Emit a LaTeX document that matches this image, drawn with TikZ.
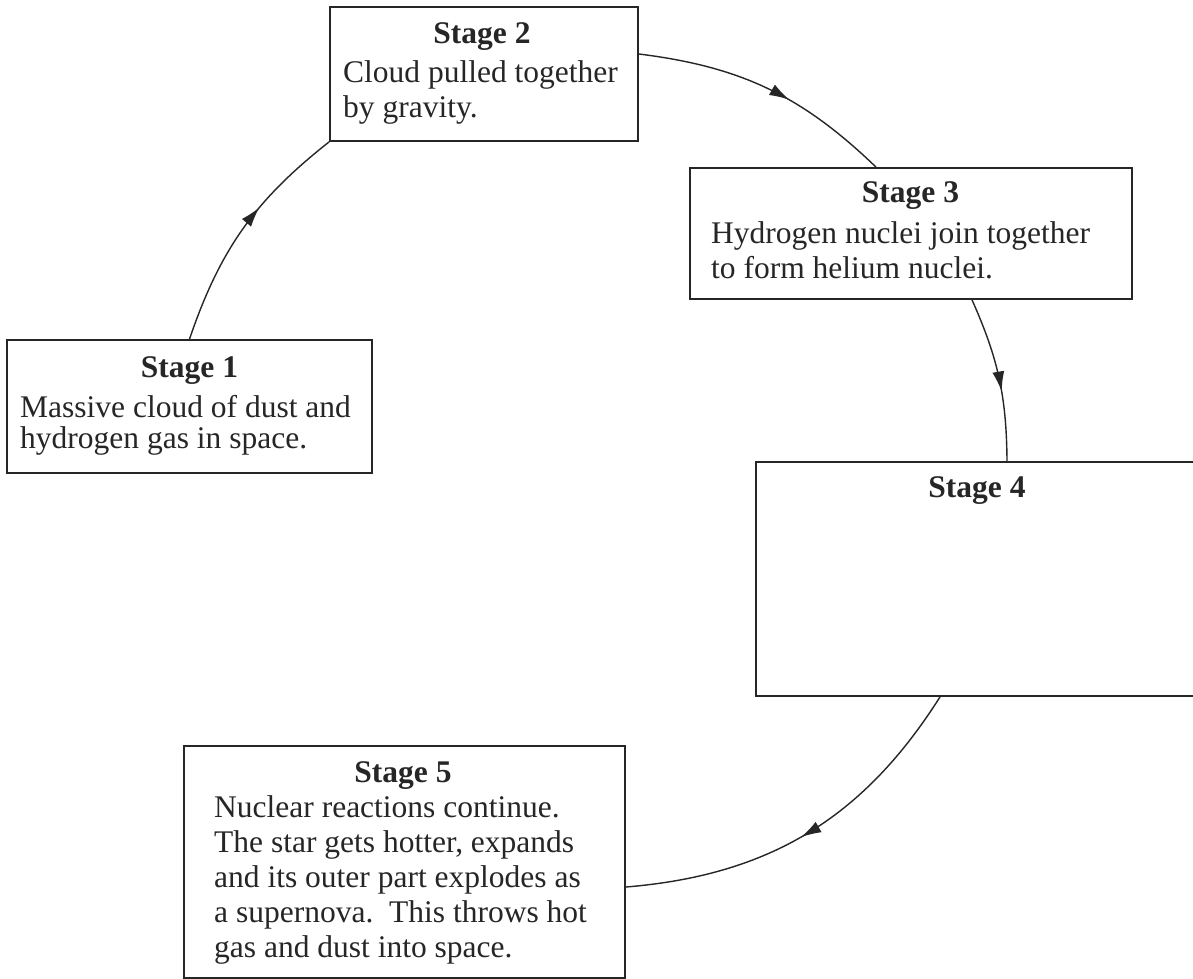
\documentclass[tikz,border=0pt]{standalone}
\usepackage{fontspec}
\setmainfont{Liberation Serif}
\usetikzlibrary{arrows.meta,decorations.markings}
\begin{document}
\begin{tikzpicture}[x=1pt,y=1pt,
  stagebox/.style={draw=black!85, line width=1.8pt, inner sep=0pt, rectangle},
  ttl/.style={font=\fontsize{31.5}{35}\selectfont\bfseries, inner sep=0pt, anchor=base, text=black!85},
  bodytext/.style={font=\fontsize{31.5}{35}\selectfont, inner sep=0pt, anchor=base west, text=black!85},
  tightbody/.style={bodytext, font=\fontsize{31.5}{31}\selectfont},
  flow/.style={draw=black!85, line width=1.4pt, postaction={decorate},
    decoration={markings, mark=at position #1 with {\arrow{Latex[length=20pt,width=12pt]}}}},
]
\useasboundingbox (0,0) rectangle (1193,-979);
\fill[white] (0,0) rectangle (1193,-979);

% boxes
\node[stagebox, minimum width=365pt, minimum height=133pt] (s1) at (189.5,-406.5) {};
\node[stagebox, minimum width=308pt, minimum height=134pt] (s2) at (484,-74) {};
\node[stagebox, minimum width=442pt, minimum height=131pt] (s3) at (911,-233.5) {};
\node[stagebox, minimum width=442pt, minimum height=234pt] (s4) at (977,-579) {};
\node[stagebox, minimum width=441pt, minimum height=232pt] (s5) at (404.5,-862) {};

% titles
\node[ttl] (t1) at (189.5,-377) {Stage 1};
\node[ttl] (t2) at (482,-44) {Stage 2};
\node[ttl] (t3) at (910.5,-202) {Stage 3};
\node[ttl] (t4) at (977,-497) {Stage 4};
\node[ttl] (t5) at (403,-782) {Stage 5};

% texts
\node[tightbody] (b1) at (20,-417) {\begin{tabular}[t]{@{}l@{}}Massive cloud of dust and\\hydrogen gas in space.\end{tabular}};
\node[bodytext] (b2) at (343,-83) {\begin{tabular}[t]{@{}l@{}}Cloud pulled together\\by gravity.\end{tabular}};
\node[bodytext] (b3) at (711,-243) {\begin{tabular}[t]{@{}l@{}}Hydrogen nuclei join together\\to form helium nuclei.\end{tabular}};
\node[bodytext] (b5) at (214,-817) {\begin{tabular}[t]{@{}l@{}}Nuclear reactions continue.\\The star gets hotter, expands\\and its outer part explodes as\\a supernova.\ \ This throws hot\\gas and dust into space.\end{tabular}};

% connectors
\draw[flow=0.61] (s1.north) to[bend left=16.5] (s2.south west);
\draw[flow=0.59] ([yshift=20pt]s2.east) to[bend left=18.4] ([xshift=-35pt]s3.north);
\draw[flow=0.58] ([xshift=61pt]s3.south) to[bend left=11.8] ([xshift=30pt]s4.north);
\draw[flow=0.52] ([xshift=-37pt]s4.south) to[bend left=26.5] ([yshift=-25pt]s5.east);
\end{tikzpicture}
\end{document}
